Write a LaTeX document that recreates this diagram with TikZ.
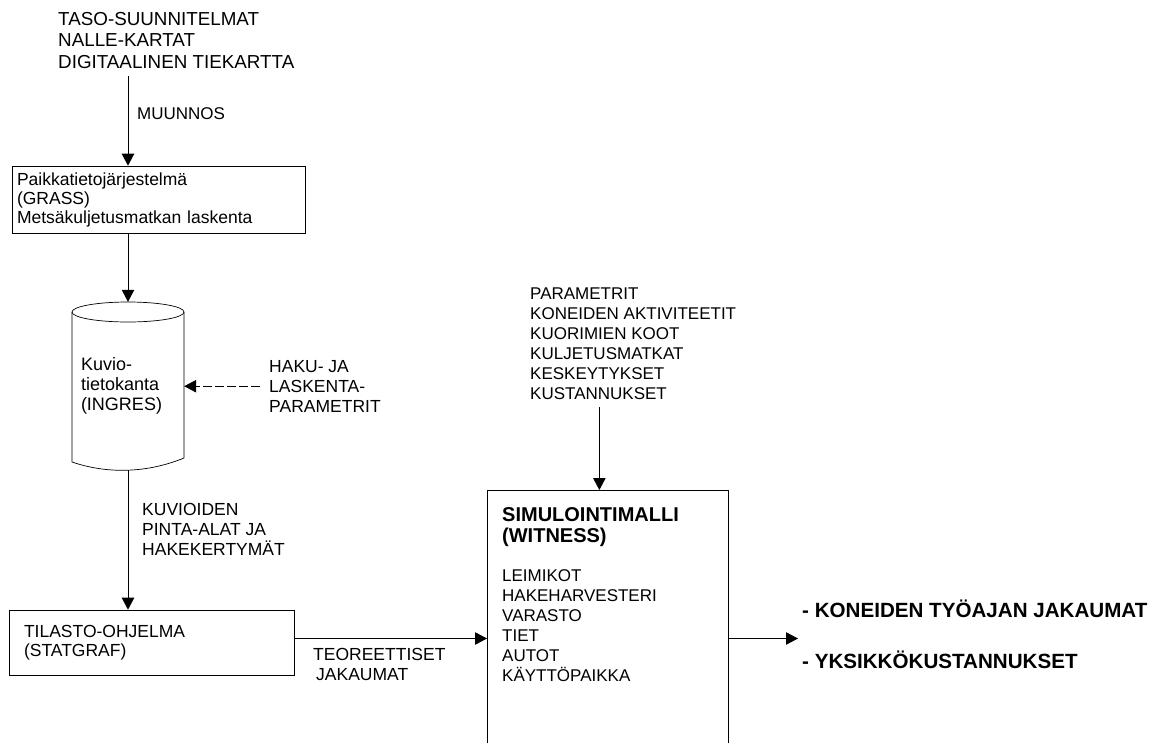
\documentclass[tikz,border=0pt]{standalone}
\usepackage{fontspec}
\setmainfont{Liberation Sans}
\usetikzlibrary{arrows.meta}

\begin{document}
\begin{tikzpicture}[x=1pt,y=-1pt,>={Triangle[length=12pt,width=12.5pt]},
        lbl/.style={anchor=north west,align=left,inner sep=0pt,font=\fontsize{17.5}{20}\selectfont},
        box/.style={draw,line width=0.7pt,align=left,inner xsep=0pt,font=\fontsize{17.5}{19}\selectfont},
        arr/.style={->,line width=0.8pt}]
        \useasboundingbox (0,0) rectangle (1153,742);
        \node[lbl,font=\fontsize{18.8}{21.5}\selectfont] (src) at (58,12) {TASO-SUUNNITELMAT\\NALLE-KARTAT\\DIGITAALINEN TIEKARTTA};
        \node[lbl,font=\fontsize{17}{20}\selectfont] (muun) at (137,107) {MUUNNOS};
        \node[box,minimum width=293pt,minimum height=67pt,text width=283pt] (gis) at (158.5,199.5) {Paikkatietojärjestelmä\\(GRASS)\\Metsäkuljetusmatkan laskenta};
        \node[minimum width=112pt,minimum height=168pt,inner sep=0pt,text width=94pt,align=left,font=\fontsize{18}{20}\selectfont] (db) at (128,386) {Kuvio-\\tietokanta\\(INGRES)};
        \draw[line width=0.7pt] (128,312) ellipse [x radius=56, y radius=10];
        \draw[line width=0.7pt] (72,312) -- (72,462) .. controls (110,475) and (150,472) .. (184,458) -- (184,312);
        \node[lbl] (haku) at (269,360) {HAKU- JA\\LASKENTA-\\PARAMETRIT};
        \node[lbl] (kuv) at (142,503) {KUVIOIDEN\\PINTA-ALAT JA\\HAKEKERTYMÄT};
        \node[box,minimum width=285pt,minimum height=65pt,text width=255pt] (stat) at (151.5,642.5) {TILASTO-OHJELMA\\(STATGRAF)};
        \node[lbl] (teo) at (313,648) {TEOREETTISET\\\hspace*{3pt}JAKAUMAT};
        \node[lbl,font=\fontsize{17}{20}\selectfont] (par) at (530,288) {PARAMETRIT\\KONEIDEN AKTIVITEETIT\\KUORIMIEN KOOT\\KULJETUSMATKAT\\KESKEYTYKSET\\KUSTANNUKSET};
        \node[draw,line width=0.7pt,anchor=north west,minimum width=241pt,minimum height=262pt] (sim) at (487,490) {};
        \node[lbl,font=\bfseries\fontsize{20}{21.5}\selectfont] (simhead) at (502,507) {SIMULOINTIMALLI\\(WITNESS)};
        \node[lbl,font=\fontsize{17}{20}\selectfont] (simlist) at (502,569) {LEIMIKOT\\HAKEHARVESTERI\\VARASTO\\TIET\\AUTOT\\KÄYTTÖPAIKKA};
        \node[anchor=base west,inner sep=0pt,font=\bfseries\fontsize{20.6}{24}\selectfont] (out1) at (802,617) {- KONEIDEN TYÖAJAN JAKAUMAT};
        \node[anchor=base west,inner sep=0pt,font=\bfseries\fontsize{20.6}{24}\selectfont] (out2) at (802,668) {- YKSIKKÖKUSTANNUKSET};
        \coordinate (simin) at ([xshift=-8.5pt]sim.north);
        \draw[arr,shorten <=7pt] (src.south -| db.north) -- (gis.north -| db.north);
        \draw[arr] (gis.south -| db.north) -- (db.north);
        \draw[arr,dash pattern=on 9pt off 3pt,shorten <=9pt] (haku.west) -- (haku.west -| db.east);
        \draw[arr] (db.south) -- (stat.north -| db.south);
        \draw[arr] ([yshift=4pt]stat.east) -- ([yshift=4pt]stat.east -| sim.west);
        \draw[arr,shorten <=7pt] (par.south -| simin) -- (simin);
        \draw[arr,shorten >=4pt] ([yshift=4pt]stat.east -| sim.east) -- ([yshift=4pt]stat.east -| out1.west);
\end{tikzpicture}
\end{document}
